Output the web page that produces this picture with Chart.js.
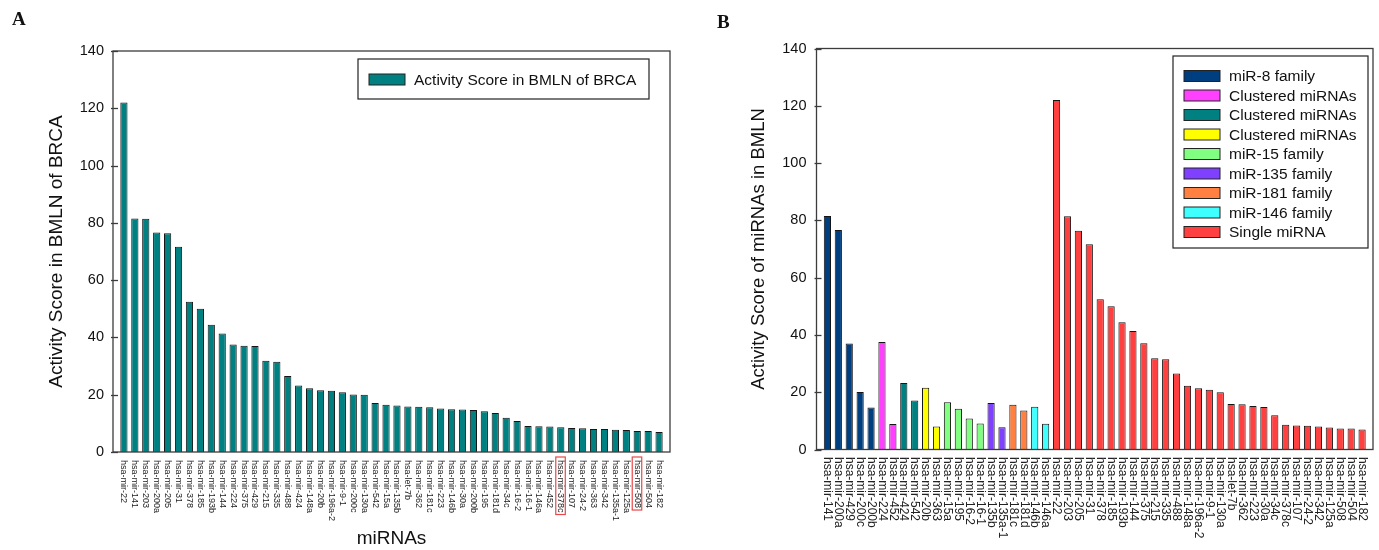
<!DOCTYPE html>
<html><head><meta charset="utf-8">
<script src="https://cdn.jsdelivr.net/npm/chart.js@4.4.1/dist/chart.umd.min.js"></script>
<style>
html,body{margin:0;padding:0;background:#fff;}
#wrap{position:relative;width:1379px;height:550px;overflow:hidden;background:#fff;}
canvas{position:absolute;top:0;}
#ca{left:0;} #cb{left:700px;}
.panel{position:absolute;font-family:"Liberation Serif","Times New Roman",serif;font-weight:bold;font-size:19px;line-height:1;color:#111;}
</style></head><body>
<div id="wrap">
<canvas id="ca" width="700" height="550"></canvas>
<canvas id="cb" width="679" height="550"></canvas>
<div class="panel" style="left:12px;top:9px">A</div>
<div class="panel" style="left:717px;top:12px">B</div>
</div>
<script>
// ---------- data ----------
const labelsA = ['hsa-mir-22','hsa-mir-141','hsa-mir-203','hsa-mir-200a','hsa-mir-205','hsa-mir-31','hsa-mir-378','hsa-mir-185','hsa-mir-193b','hsa-mir-144',
 'hsa-mir-224','hsa-mir-375','hsa-mir-429','hsa-mir-215','hsa-mir-335','hsa-mir-488','hsa-mir-424','hsa-mir-148a','hsa-mir-20b','hsa-mir-196a-2',
 'hsa-mir-9-1','hsa-mir-200c','hsa-mir-130a','hsa-mir-542','hsa-mir-15a','hsa-mir-135b','hsa-let-7b','hsa-mir-362','hsa-mir-181c','hsa-mir-223',
 'hsa-mir-146b','hsa-mir-30a','hsa-mir-200b','hsa-mir-195','hsa-mir-181d','hsa-mir-34c','hsa-mir-16-2','hsa-mir-16-1','hsa-mir-146a','hsa-mir-452',
 'hsa-mir-378c','hsa-mir-107','hsa-mir-24-2','hsa-mir-363','hsa-mir-342','hsa-mir-135a-1','hsa-mir-125a','hsa-mir-508','hsa-mir-504','hsa-mir-182'];
const scoresA = [122, 81.5, 81.4, 76.6, 76.4, 71.7, 52.5, 50.0, 44.4, 41.4,
 37.5, 37.1, 37.0, 31.9, 31.5, 26.5, 23.2, 22.3, 21.6, 21.4,
 20.9, 20.1, 20.0, 17.1, 16.5, 16.2, 15.9, 15.8, 15.6, 15.2,
 14.9, 14.8, 14.7, 14.2, 13.6, 12.0, 10.8, 9.1, 9.0, 8.9,
 8.6, 8.4, 8.3, 8.0, 8.0, 7.8, 7.7, 7.3, 7.3, 7.0];
const highlightedA = ['hsa-mir-378c','hsa-mir-508'];

const labelsB = ['hsa-mir-141','hsa-mir-200a','hsa-mir-429','hsa-mir-200c','hsa-mir-200b','hsa-mir-224','hsa-mir-452','hsa-mir-424','hsa-mir-542','hsa-mir-20b',
 'hsa-mir-363','hsa-mir-15a','hsa-mir-195','hsa-mir-16-2','hsa-mir-16-1','hsa-mir-135b','hsa-mir-135a-1','hsa-mir-181c','hsa-mir-181d','hsa-mir-146b',
 'hsa-mir-146a','hsa-mir-22','hsa-mir-203','hsa-mir-205','hsa-mir-31','hsa-mir-378','hsa-mir-185','hsa-mir-193b','hsa-mir-144','hsa-mir-375',
 'hsa-mir-215','hsa-mir-335','hsa-mir-488','hsa-mir-148a','hsa-mir-196a-2','hsa-mir-9-1','hsa-mir-130a','hsa-let-7b','hsa-mir-362','hsa-mir-223',
 'hsa-mir-30a','hsa-mir-34c','hsa-mir-378c','hsa-mir-107','hsa-mir-24-2','hsa-mir-342','hsa-mir-125a','hsa-mir-508','hsa-mir-504','hsa-mir-182'];
const groupB = [0,0,0,0,0,1,1,2,2,3,3,4,4,4,4,5,5,6,6,7,7,
 8,8,8,8,8,8,8,8,8,8,8,8,8,8,8,8,8,8,8,8,8,8,8,8,8,8,8,8,8];
const legendLabelsB = ['miR-8 family','Clustered miRNAs','Clustered miRNAs','Clustered miRNAs','miR-15 family','miR-135 family','miR-181 family','miR-146 family','Single miRNA'];
const legendColorsB = ['#003f7f','#ff40ff','#008080','#ffff00','#80ff80','#8040ff','#ff8040','#40ffff','#ff4040'];
const yTicks = [0,20,40,60,80,100,120,140];

// values in panel B are the same scores, looked up by miRNA
const scoreOf = Object.fromEntries(labelsA.map((l,i)=>[l,scoresA[i]]));
const valuesB = labelsB.map(l=>scoreOf[l]);

// ---------- drawing helpers ----------
const FONT = '"Liberation Sans", Arial, sans-serif';
const decor = {
  id:'decor',
  afterDatasetsDraw(chart, args, o){
    const {ctx, chartArea:a, scales:{x,y}} = chart;
    ctx.save();
    ctx.strokeStyle = '#3c3c3c'; ctx.lineWidth = 1.3;
    ctx.strokeRect(a.left, a.top, a.right-a.left, a.bottom-a.top);
    y.ticks.forEach(t=>{
      const py = Math.round(y.getPixelForValue(t.value))+0.5;
      ctx.beginPath(); ctx.moveTo(a.left-2, py); ctx.lineTo(a.left+5, py); ctx.stroke();
    });
    // rotated category labels
    ctx.font = o.labelFont; ctx.textAlign='left'; ctx.textBaseline='middle'; ctx.fillStyle='#222';
    o.labels.forEach((lab,i)=>{
      const px = x.getPixelForValue(i);
      ctx.save(); ctx.translate(px, a.bottom + o.labelGap); ctx.rotate(Math.PI/2);
      ctx.fillText(lab, 0, 0);
      if (o.highlight && o.highlight.includes(lab)) {
        const w = ctx.measureText(lab).width;
        ctx.strokeStyle = '#e8484a'; ctx.lineWidth = 1.2;
        ctx.strokeRect(-3, -4.5, w+5, 9.5);
      }
      ctx.restore();
    });
    // legend
    const L = o.legend;
    ctx.strokeStyle = '#222'; ctx.lineWidth = 1.2;
    ctx.fillStyle = '#fff';
    ctx.fillRect(L.x1, L.y1, L.x2-L.x1, L.y2-L.y1);
    ctx.strokeRect(L.x1, L.y1, L.x2-L.x1, L.y2-L.y1);
    ctx.font = L.font; ctx.textBaseline='middle'; ctx.textAlign='left';
    L.items.forEach((it,k)=>{
      const cy = L.row0 + k*L.rowStep;
      ctx.fillStyle = it.color;
      ctx.fillRect(L.sx, cy-L.sh/2, L.sw, L.sh);
      ctx.strokeStyle = '#222'; ctx.lineWidth = 1;
      ctx.strokeRect(L.sx, cy-L.sh/2, L.sw, L.sh);
      ctx.fillStyle = '#111';
      ctx.fillText(it.text, L.tx, cy+1);
    });
    ctx.restore();
  }
};

function makeChart(canvasId, labels, values, colors, cfg){
  return new Chart(document.getElementById(canvasId), {
    type:'bar',
    data:{ datasets:[{
      data: values.map((v,i)=>({x:i, y:v})),
      backgroundColor: colors, borderColor:'#151515', borderWidth:1,
      barPercentage:0.66, categoryPercentage:1
    }]},
    options:{
      responsive:false, animation:false, devicePixelRatio:1,
      layout:{ padding: cfg.padding },
      plugins:{ legend:{display:false}, tooltip:{enabled:false}, decor: cfg.decor },
      scales:{
        x:{ type:'linear', min:-1, max:labels.length, offset:false, bounds:'data', grace:0,
            ticks:{display:false}, grid:{display:false, drawTicks:false, offset:false}, border:{display:false},
            title: cfg.xTitle,
            afterFit(s){ s.height = cfg.xHeight; } },
        y:{ min:0, max:140,
            afterBuildTicks(s){ s.ticks = yTicks.map(v=>({value:v})); },
            ticks:{ font:{family:FONT, size:14.5}, color:'#111', padding:cfg.tickPad },
            grid:{display:false, drawTicks:false}, border:{display:false},
            title:{ display:true, text:cfg.yTitle, color:'#111', font:{family:FONT, size:cfg.yTitleSize}, padding:{top:cfg.yTitlePad, bottom:0} },
            afterFit(s){ s.width = cfg.yWidth; } }
      }
    },
    plugins:[decor]
  });
}

makeChart('ca', labelsA, scoresA, '#008080', {
  padding:{left:0, top:51, right:30, bottom:0},
  xHeight:98, yWidth:113, tickPad:9, yTitle:'Activity Score in BMLN of BRCA', yTitleSize:19, yTitlePad:45.5,
  xTitle:{ display:true, text:'miRNAs', color:'#111', font:{family:FONT, size:19}, padding:{top:0,bottom:0} },
  decor:{ labels:labelsA, labelFont:'9px '+FONT, labelGap:8, highlight:highlightedA,
    legend:{ x1:358, y1:59, x2:649, y2:99, sx:369, sw:36, sh:11, tx:414, row0:79.5, rowStep:0,
      font:'15.5px '+FONT, items:[{text:'Activity Score in BMLN of BRCA', color:'#008080'}] } }
});

makeChart('cb', labelsB, valuesB, groupB.map(g=>legendColorsB[g]), {
  padding:{left:0, top:48.5, right:6, bottom:0},
  xHeight:100.5, yWidth:116.5, tickPad:10, yTitle:'Activity Score of miRNAs in BMLN', yTitleSize:18.5, yTitlePad:47.5,
  xTitle:{ display:false },
  decor:{ labels:labelsB, labelFont:'12px '+FONT, labelGap:7.5,
    legend:{ x1:473, y1:56, x2:668, y2:248, sx:484, sw:36, sh:11, tx:529, row0:76, rowStep:19.5,
      font:'15.5px '+FONT, items:legendLabelsB.map((t,k)=>({text:t, color:legendColorsB[k]})) } }
});
</script>
</body></html>
